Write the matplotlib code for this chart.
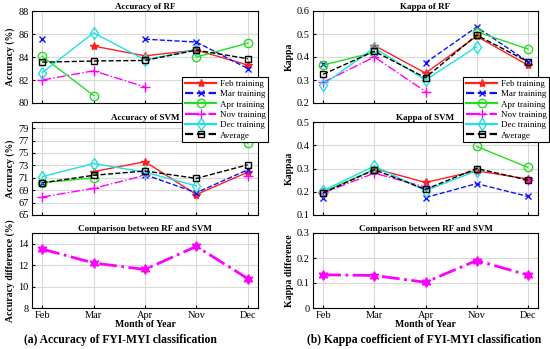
import matplotlib
matplotlib.use("Agg")
import matplotlib.pyplot as plt
import numpy as np

nan = np.nan
months = ["Feb", "Mar", "Apr", "Nov", "Dec"]
series_names = ["Feb training", "Mar training", "Apr training",
                "Nov training", "Dec training", "Average"]

# accuracy (%) of RF
acc_rf = {
    "Feb training": [nan, 84.95, 84.1, 84.6, 83.3],
    "Mar training": [85.6, nan, 85.55, 85.3, 83.0],
    "Apr training": [84.05, 80.65, nan, 84.0, 85.2],
    "Nov training": [82.0, 82.8, 81.4, nan, nan],
    "Dec training": [82.65, 86.1, 83.75, 84.65, nan],
    "Average": [83.55, 83.65, 83.7, 84.6, 83.85],
}
# accuracy (%) of SVM
acc_svm = {
    "Feb training": [nan, 72.0, 73.6, 68.3, 71.9],
    "Mar training": [70.2, nan, 71.5, 68.6, 72.3],
    "Apr training": [70.2, 71.0, nan, 78.6, 76.6],
    "Nov training": [67.9, 69.3, 71.4, nan, 71.3],
    "Dec training": [71.2, 73.3, 71.9, 69.7, nan],
    "Average": [70.2, 71.4, 72.1, 70.9, 73.1],
}
acc_diff = [13.5, 12.2, 11.6, 13.75, 10.75]

# kappa of RF
kap_rf = {
    "Feb training": [nan, 0.45, 0.33, 0.49, 0.365],
    "Mar training": [0.37, nan, 0.375, 0.53, 0.38],
    "Apr training": [0.365, 0.42, nan, 0.51, 0.435],
    "Nov training": [0.29, 0.40, 0.25, nan, nan],
    "Dec training": [0.28, 0.44, 0.30, 0.445, nan],
    "Average": [0.325, 0.425, 0.31, 0.495, 0.38],
}
# kappa of SVM
kap_svm = {
    "Feb training": [nan, 0.30, 0.24, 0.29, 0.255],
    "Mar training": [0.175, nan, 0.175, 0.235, 0.18],
    "Apr training": [0.20, 0.295, nan, 0.395, 0.305],
    "Nov training": [0.195, 0.28, 0.22, nan, 0.25],
    "Dec training": [0.205, 0.31, 0.205, 0.29, nan],
    "Average": [0.195, 0.295, 0.21, 0.30, 0.25],
}
kap_diff = [0.133, 0.13, 0.103, 0.19, 0.132]

styles = {
    "Feb training": dict(color="#ff2020", ls="-", marker="*", ms=6, mfc="#ff2020"),
    "Mar training": dict(color="#1010ff", ls="--", marker="x", ms=5),
    "Apr training": dict(color="#22dd22", ls="-", marker="o", ms=6, mfc="none"),
    "Nov training": dict(color="#ff00ff", ls="-.", marker="+", ms=7),
    "Dec training": dict(color="#22e0e0", ls="-", marker="d", ms=6, mfc="none"),
    "Average": dict(color="black", ls="--", marker="s", ms=5, mfc="none"),
}

plt.rcParams["font.family"] = ["Liberation Serif", "DejaVu Serif"]
fig = plt.figure(figsize=(5.5, 3.49), dpi=100)
W, H = 550.0, 349.0


def add_ax(x0, y0, x1, y1):
    return fig.add_axes([x0 / W, 1 - y1 / H, (x1 - x0) / W, (y1 - y0) / H])


x = np.arange(len(months))


def style_ax(ax, title, ylabel, ylim, yticks, yfmt=None, show_x=False):
    ax.set_xlim(-0.2, 4.2)
    ax.set_ylim(*ylim)
    ax.set_yticks(yticks)
    if yfmt:
        ax.set_yticklabels([yfmt % v for v in yticks])
    ax.set_xticks(x)
    if show_x:
        ax.set_xticklabels(months)
    else:
        ax.set_xticklabels([])
    ax.grid(True, color="#d9d9d9", lw=0.8)
    ax.set_axisbelow(True)
    ax.tick_params(labelsize=7.5, length=2, direction="in", pad=2.5)
    ax.set_title(title, fontsize=6.5, fontweight="bold", pad=1.5)
    ax.set_ylabel(ylabel, fontsize=7, fontweight="bold", labelpad=2)
    for s in ax.spines.values():
        s.set_linewidth(0.8)


def draw_lines(ax, data):
    handles = []
    for name in series_names:
        st = styles[name]
        h, = ax.plot(x, data[name], lw=1.0, label=name, **st)
        handles.append(h)
    return handles


cols = [(32, 258), (313, 538)]
rows = [(11, 103), (122, 215), (233, 308)]

# left column: accuracy
ax = add_ax(cols[0][0], rows[0][0], cols[0][1], rows[0][1])
handles = draw_lines(ax, acc_rf)
style_ax(ax, "Accuracy of RF", "Accuracy (%)", (80, 88), [80, 82, 84, 86, 88])

ax = add_ax(cols[0][0], rows[1][0], cols[0][1], rows[1][1])
draw_lines(ax, acc_svm)
style_ax(ax, "Accuracy of SVM", "Accuracy (%)", (65, 80), [65, 67, 69, 71, 73, 75, 77, 79])

ax = add_ax(cols[0][0], rows[2][0], cols[0][1], rows[2][1])
ax.plot(x, acc_diff, color="#ff00ff", ls="-.", lw=2, marker=(6, 1, 0), ms=7)
style_ax(ax, "Comparison between RF and SVM", "Accuracy difference (%)",
         (8, 15), [8, 10, 12, 14], show_x=True)
ax.set_xlabel("Month of Year", fontsize=7, fontweight="bold", labelpad=0)

# right column: kappa
ax = add_ax(cols[1][0], rows[0][0], cols[1][1], rows[0][1])
draw_lines(ax, kap_rf)
style_ax(ax, "Kappa of RF", "Kappa", (0.2, 0.6), [0.2, 0.3, 0.4, 0.5, 0.6], "%.1f")

ax = add_ax(cols[1][0], rows[1][0], cols[1][1], rows[1][1])
draw_lines(ax, kap_svm)
style_ax(ax, "Kappa of SVM", "Kappaa", (0.1, 0.5), [0.1, 0.2, 0.3, 0.4, 0.5], "%.1f")

ax = add_ax(cols[1][0], rows[2][0], cols[1][1], rows[2][1])
ax.plot(x, kap_diff, color="#ff00ff", ls="-.", lw=2, marker=(6, 1, 0), ms=7)
style_ax(ax, "Comparison between RF and SVM", "Kappa difference",
         (0, 0.3), [0, 0.1, 0.2, 0.3], show_x=True)
ax.set_yticklabels(["0", "0.1", "0.2", "0.3"])
ax.set_xlabel("Month of Year", fontsize=7, fontweight="bold", labelpad=0)

# legends straddling the first two rows
for lx in (182, 463):
    leg = fig.legend(handles, series_names, loc="upper left",
                     bbox_to_anchor=(lx / W, 1 - 77 / H), fontsize=6.5,
                     frameon=True, fancybox=False, borderpad=0.3,
                     labelspacing=0.22, handlelength=3.5, handletextpad=0.4,
                     borderaxespad=0, framealpha=1)
    leg.get_frame().set_edgecolor("black")
    leg.get_frame().set_linewidth(0.8)
    for ln in leg.get_lines():
        ln.set_linewidth(1.6)

fig.text(120 / W, 1 - 340 / H, "(a) Accuracy of FYI-MYI classification",
         ha="center", va="center", fontsize=8.4, fontweight="bold")
fig.text(424 / W, 1 - 340 / H, "(b) Kappa coefficient of FYI-MYI classification",
         ha="center", va="center", fontsize=8.4, fontweight="bold")

fig.savefig("out.png", dpi=100)
